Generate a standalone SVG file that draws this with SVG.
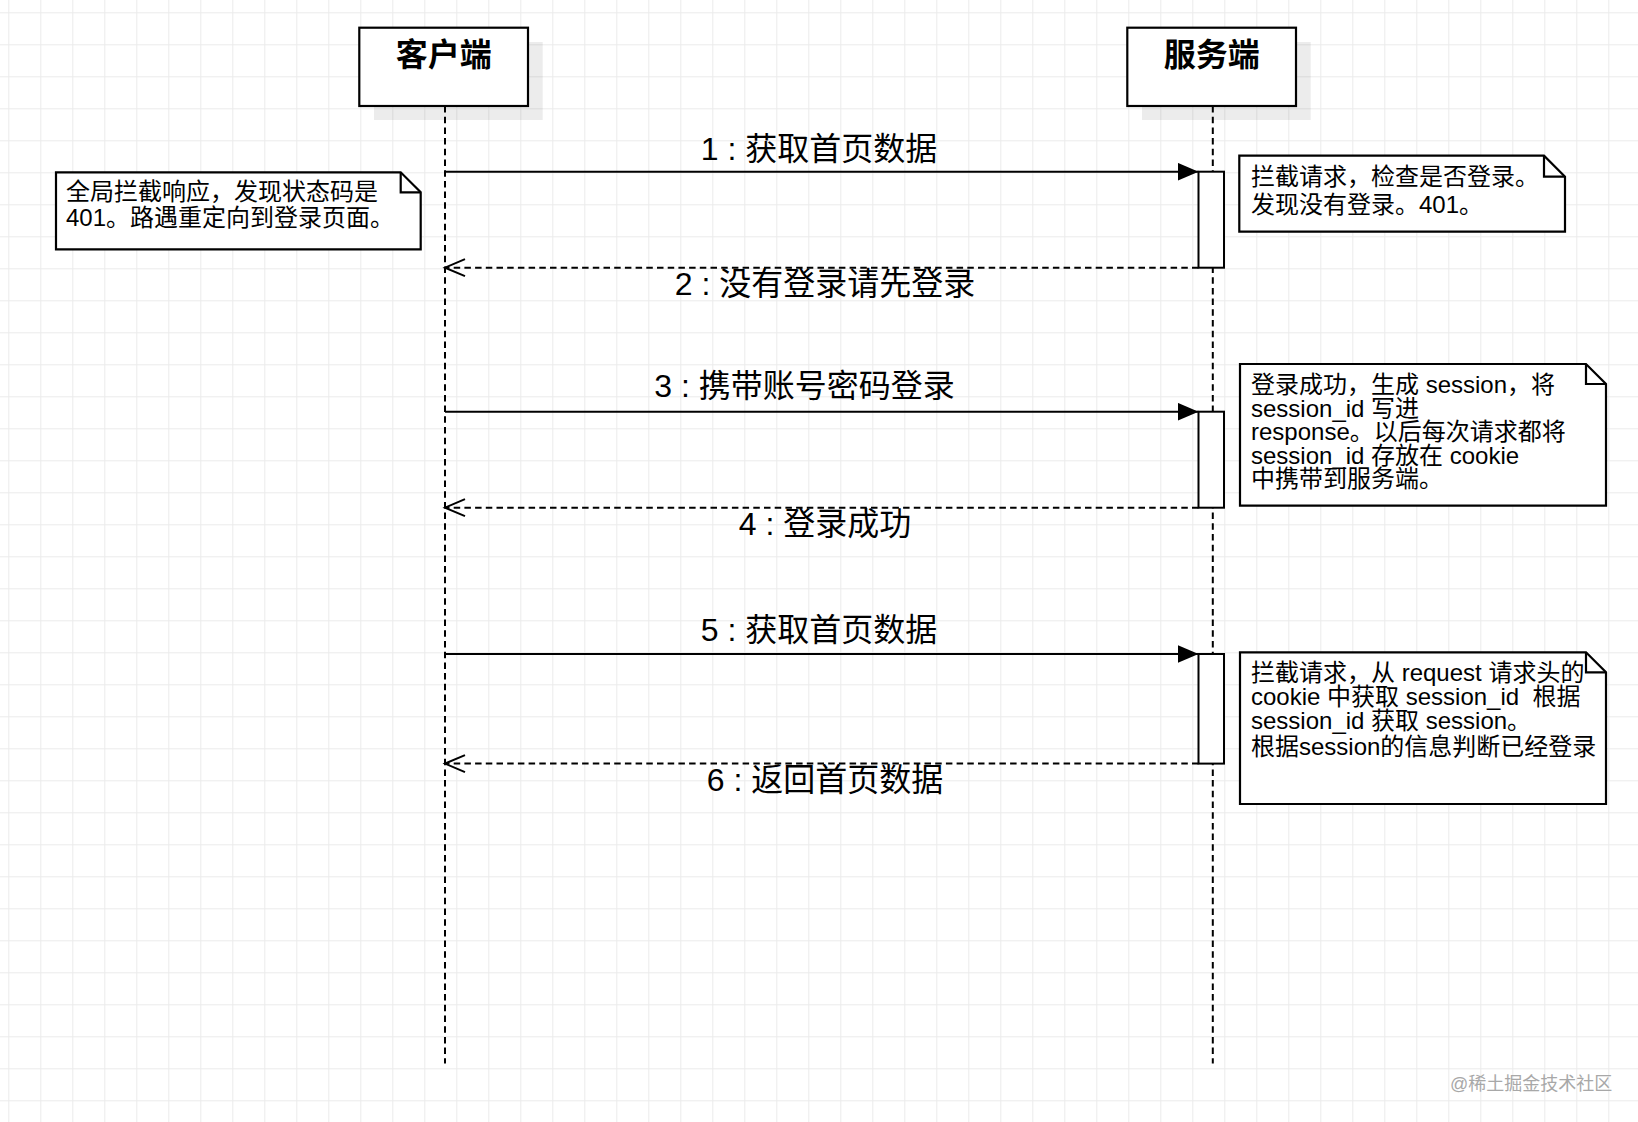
<svg xmlns="http://www.w3.org/2000/svg" width="1638" height="1122" viewBox="0 0 1638 1122">
  <defs>
    <pattern id="grid" patternUnits="userSpaceOnUse" x="8.3" y="12.3" width="32" height="32">
      <path d="M0 0.5 H32 M0.5 0 V32" fill="none" stroke="#ebebeb" stroke-width="1"/>
    </pattern>
    <marker id="block" markerUnits="userSpaceOnUse" markerWidth="22" markerHeight="20" refX="21" refY="9" orient="auto">
      <path d="M0 0 L21 9 L0 18 Z" fill="#000"/>
    </marker>
    <marker id="open" markerUnits="userSpaceOnUse" markerWidth="24" markerHeight="22" refX="21" refY="10" orient="auto">
      <path d="M1 1.5 L21 10 L1 18.5" fill="none" stroke="#000" stroke-width="2"/>
    </marker>
  </defs>
  <style>
    .box { fill: #fff; stroke: #000; stroke-width: 2.2; }
    .shadow { fill: #000; opacity: 0.075; }
    .life { fill: none; stroke: #000; stroke-width: 2; stroke-dasharray: 6.5 4.2; }
    .act { fill: #fff; stroke: #000; stroke-width: 2; }
    .note { fill: #fff; stroke: #000; stroke-width: 2.2; stroke-linejoin: miter; }
    .fold { fill: none; stroke: #000; stroke-width: 2.2; }
    .title { font-family: "Liberation Sans", "Noto Sans CJK SC", sans-serif; font-size: 32px; font-weight: bold; text-anchor: middle; fill: #000; }
    .ntext { font-family: "Liberation Sans", "Noto Sans CJK SC", sans-serif; font-size: 24px; fill: #000; }
    .label { font-family: "Liberation Sans", "Noto Sans CJK SC", sans-serif; font-size: 32px; text-anchor: middle; fill: #000; }
    .msg { fill: none; stroke: #000; stroke-width: 2; }
    .ret { fill: none; stroke: #000; stroke-width: 2; stroke-dasharray: 6.5 4.2; }
    .wm { font-family: "Liberation Sans", "Noto Sans CJK SC", sans-serif; font-size: 18px; fill: #a8a8a8; }
  </style>
  <rect x="0" y="0" width="1638" height="1122" fill="#fff"/>
  <rect x="0" y="0" width="1638" height="1122" fill="url(#grid)"/>

  <g id="client">
    <rect class="shadow" x="374" y="42" width="168.7" height="78"/>
    <line class="life" x1="445" y1="106" x2="445" y2="1063.5"/>
    <rect class="box" x="359.3" y="27.7" width="168.7" height="78.3"/>
    <text class="title" x="443.7" y="66">客户端</text>
  </g>

  <g id="server">
    <rect class="shadow" x="1142" y="42" width="168.7" height="78"/>
    <line class="life" x1="1212.8" y1="106" x2="1212.8" y2="1063.5"/>
    <rect class="box" x="1127.3" y="27.7" width="168.7" height="78.3"/>
    <text class="title" x="1211.7" y="66">服务端</text>
  </g>

  <g id="activation1"><rect class="act" x="1198.5" y="171.7" width="25.5" height="96"/></g>
  <g id="activation2"><rect class="act" x="1198.5" y="411.7" width="25.5" height="96"/></g>
  <g id="activation3"><rect class="act" x="1198.5" y="654" width="25.5" height="109.6"/></g>

  <g id="note1">
    <path class="note" d="M56 172.3 H400.7 L420.7 192.3 V249.3 H56 Z"/>
    <path class="fold" d="M400.7 172.3 V192.3 H420.7"/>
    <text class="ntext" x="66" y="200">全局拦截响应，发现状态码是</text>
    <text class="ntext" x="66" y="226">401。路遇重定向到登录页面。</text>
  </g>

  <g id="note2">
    <path class="note" d="M1239.3 155.7 H1544 L1565 176.7 V231.7 H1239.3 Z"/>
    <path class="fold" d="M1544 155.7 V176.7 H1565"/>
    <text class="ntext" x="1251" y="185">拦截请求，检查是否登录。</text>
    <text class="ntext" x="1251" y="213">发现没有登录。401。</text>
  </g>

  <g id="note3">
    <path class="note" d="M1240 364 H1586 L1606 384 V505.7 H1240 Z"/>
    <path class="fold" d="M1586 364 V384 H1606"/>
    <text class="ntext" x="1251" y="393">登录成功，生成 session，将</text>
    <text class="ntext" x="1251" y="416.5">session_id 写进</text>
    <text class="ntext" x="1251" y="440">response。以后每次请求都将</text>
    <text class="ntext" x="1251" y="463.5">session_id 存放在 cookie</text>
    <text class="ntext" x="1251" y="487">中携带到服务端。</text>
  </g>

  <g id="note4">
    <path class="note" d="M1240 652.3 H1586 L1606 672.3 V804 H1240 Z"/>
    <path class="fold" d="M1586 652.3 V672.3 H1606"/>
    <text class="ntext" x="1251" y="681">拦截请求，从 request 请求头的</text>
    <text class="ntext" x="1251" y="705" xml:space="preserve">cookie 中获取 session_id  根据</text>
    <text class="ntext" x="1251" y="729">session_id 获取 session。</text>
    <text class="ntext" x="1251" y="755">根据session的信息判断已经登录</text>
  </g>

  <g id="connectors">
    <line class="msg" x1="445" y1="171.7" x2="1198.5" y2="171.7" marker-end="url(#block)"/>
    <text class="label" x="819" y="160">1 : 获取首页数据</text>
    <line class="ret" x1="1198.5" y1="267.7" x2="445" y2="267.7" marker-end="url(#open)"/>
    <text class="label" x="825" y="295">2 : 没有登录请先登录</text>
    <line class="msg" x1="445" y1="411.7" x2="1198.5" y2="411.7" marker-end="url(#block)"/>
    <text class="label" x="804.5" y="397">3 : 携带账号密码登录</text>
    <line class="ret" x1="1198.5" y1="507.7" x2="445" y2="507.7" marker-end="url(#open)"/>
    <text class="label" x="825" y="535">4 : 登录成功</text>
    <line class="msg" x1="445" y1="654" x2="1198.5" y2="654" marker-end="url(#block)"/>
    <text class="label" x="819" y="641">5 : 获取首页数据</text>
    <line class="ret" x1="1198.5" y1="763.6" x2="445" y2="763.6" marker-end="url(#open)"/>
    <text class="label" x="825" y="791">6 : 返回首页数据</text>
  </g>

  <text class="wm" x="1450" y="1090">@稀土掘金技术社区</text>
</svg>
